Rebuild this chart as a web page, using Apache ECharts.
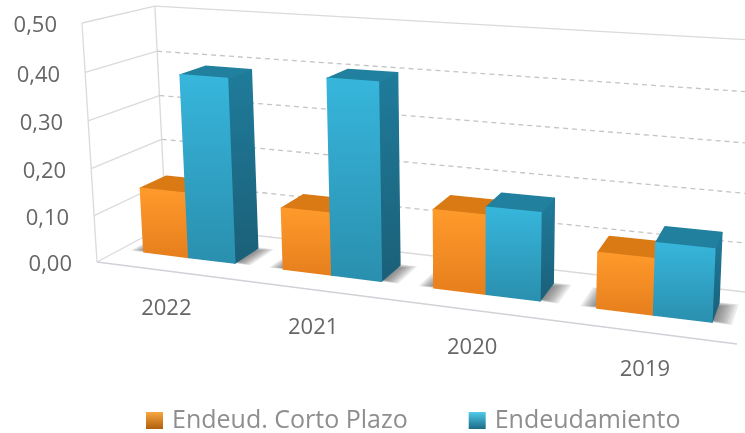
<!DOCTYPE html>
<html>
<head>
<meta charset="utf-8">
<style>html,body{margin:0;padding:0;background:#fff}#c{width:745px;height:433px}</style>
<script src="https://cdn.jsdelivr.net/npm/echarts@6/dist/echarts.min.js"></script>
</head>
<body>
<div id="c"></div>
<script>
const categories = ['2022', '2021', '2020', '2019'];
const shortTerm = [0.14, 0.13, 0.16, 0.11];
const totalDebt = [0.39, 0.405, 0.176, 0.141];
const valueTicks = [0, 0.1, 0.2, 0.3, 0.4, 0.5];
const tickLabels = ['0,00', '0,10', '0,20', '0,30', '0,40', '0,50'];
const seriesNames = ['Endeud. Corto Plazo', 'Endeudamiento'];

// Projective view of the unit box (u along categories, v up the value axis, d into the page)
const O = [97, 262], U = [737, 344], V = [82, 23], D = [166, 225];
const A = -0.15, B = -0.0385, C = 0.095;
function project(u, v, d) {
  const w = 1 + A * u + B * v + C * d;
  const f = i => O[i] + u * ((1 + A) * U[i] - O[i]) + v * ((1 + B) * V[i] - O[i]) + d * ((1 + C) * D[i] - O[i]);
  return [f(0) / w, f(1) / w];
}
const FRONT = 0.33, BACK = 0.71, BAR = 0.33; // depth span of the bars, bar width per category

function norm(api, params, cat, val) {
  const s = params.coordSys, c = api.coord([cat, val]);
  return [(c[0] - s.x) / s.width, (s.y + s.height - c[1]) / s.height];
}
function grad(a, b) {
  return {type: 'linear', x: 0, y: 0, x2: 0, y2: 1, colorStops: [{offset: 0, color: a}, {offset: 1, color: b}]};
}
function face(points, fill) {
  return {type: 'polygon', shape: {points}, style: {fill, stroke: fill, lineWidth: 1.5, lineJoin: 'round'}};
}
function barRenderer(side, col) {
  return function (params, api) {
    const s = params.coordSys;
    const p = norm(api, params, api.value(0), api.value(1));
    const w = api.size([1, 0])[0] / s.width * BAR;
    const u0 = side < 0 ? p[0] - w : p[0], u1 = u0 + w, v = p[1];
    return {type: 'group', children: [
      face([project(u1, 0, FRONT), project(u1, 0, BACK), project(u1, v, BACK), project(u1, v, FRONT)], grad(col.side0, col.side1)),
      face([project(u0, v, FRONT), project(u1, v, FRONT), project(u1, v, BACK), project(u0, v, BACK)], col.top),
      face([project(u0, v, FRONT), project(u1, v, FRONT), project(u1, 0, FRONT), project(u0, 0, FRONT)], grad(col.front0, col.front1))
    ]};
  };
}
const orange = {front0: '#ff9a2c', front1: '#e67f1c', top: '#d97a14', side0: '#b8650f', side1: '#a05508'};
const blue = {front0: '#37b6dc', front1: '#2a8fae', top: '#22809f', side0: '#1f7c9b', side1: '#1b5f78'};

function shadowRenderer(params, api) {
  const s = params.coordSys, p = norm(api, params, api.value(0), 0);
  const w = api.size([1, 0])[0] / s.width * BAR;
  const kids = [];
  for (let k = 8; k >= 0; k--) {
    const a = p[0] - w - 0.003 * k, b = p[0] + w + 0.0035 * k;
    const f = FRONT + 0.006 * (8 - k) - 0.005, g = BACK - 0.07 + 0.011 * k;
    kids.push({type: 'polygon', shape: {points: [project(a, 0, f), project(b, 0, f), project(b, 0, g), project(a, 0, g)]},
      style: {fill: 'rgba(60,60,60,0.1)'}});
  }
  return {type: 'group', children: kids};
}
function wallRenderer(params, api) {
  const i = api.value(0), tick = api.value(1);
  const v = norm(api, params, 0, tick)[1];
  const edge = i === 0 || i === valueTicks.length - 1;
  const solid = {stroke: '#dadada', lineWidth: 1.3};
  const dash = {stroke: '#c4c4c4', lineWidth: 1.3, lineDash: [5, 4]};
  const line = (a, b, st) => ({type: 'line', shape: {x1: a[0], y1: a[1], x2: b[0], y2: b[1]}, style: st});
  const kids = [
    line(project(0, v, 0), project(0, v, 1), solid),
    line(project(0, v, 1), project(1.03, v, 1), edge ? solid : dash)
  ];
  if (i === 0) {
    kids.push(line(project(0, 0, 0), project(1, 0, 0), {stroke: '#cfd2d6', lineWidth: 1.3}));
    kids.push(line(project(0, 0, 0), project(0, 1, 0), solid));
    kids.push(line(project(0, 0, 1), project(0, 1, 1), solid));
  }
  return {type: 'group', children: kids};
}
const FONT = '"Open Sans", sans-serif';
function yLabelRenderer(params, api) {
  const v = norm(api, params, 0, api.value(1))[1];
  const p = project(0, v, 0);
  return {type: 'text', style: {text: tickLabels[api.value(0)], x: p[0] - 25, y: p[1] + 3, align: 'right', verticalAlign: 'middle',
    fill: '#666666', fontSize: 22, fontFamily: FONT}};
}
function xLabelRenderer(params, api) {
  const c = norm(api, params, api.value(0), 0);
  const p = project(c[0], 0, 0);
  return {type: 'text', style: {text: categories[api.value(0)], x: p[0], y: p[1] + 38, align: 'center', verticalAlign: 'middle',
    fill: '#666666', fontSize: 22, fontFamily: FONT}};
}
const idx = categories.map((_, i) => i);
const chart = echarts.init(document.getElementById('c'), null, {renderer: 'canvas'});
chart.setOption({
  animation: false,
  backgroundColor: '#ffffff',
  grid: {left: 0, right: 0, top: 0, bottom: 0},
  xAxis: {type: 'category', data: categories, show: false},
  yAxis: {type: 'value', min: 0, max: 0.5, interval: 0.1, show: false},
  legend: {
    left: 146, top: 408, padding: 0, itemWidth: 17, itemHeight: 17, itemGap: 61,
    textStyle: {fontSize: 25, color: '#8e8e8e', fontFamily: FONT, padding: [0, 0, 0, 4]},
    data: [
      {name: seriesNames[0], icon: 'rect', itemStyle: {color: grad('#f7a93f', '#b05e0e')}},
      {name: seriesNames[1], icon: 'rect', itemStyle: {color: grad('#4fcbe8', '#1d6b87')}}
    ]
  },
  series: [
    {type: 'custom', z: 1, silent: true, clip: false, renderItem: wallRenderer, data: valueTicks.map((t, i) => [i, t]), encode: {x: 0, y: 1}},
    {type: 'custom', z: 2, silent: true, clip: false, renderItem: shadowRenderer, data: idx.map(i => [i, 0]), encode: {x: 0, y: 1}},
    {type: 'custom', z: 3, name: seriesNames[0], clip: false, renderItem: barRenderer(-1, orange), itemStyle: {color: '#ff9a2c'}, data: idx.map(i => [i, shortTerm[i]]), encode: {x: 0, y: 1}},
    {type: 'custom', z: 4, name: seriesNames[1], clip: false, renderItem: barRenderer(1, blue), itemStyle: {color: '#37b6dc'}, data: idx.map(i => [i, totalDebt[i]]), encode: {x: 0, y: 1}},
    {type: 'custom', z: 5, silent: true, clip: false, renderItem: yLabelRenderer, data: valueTicks.map((t, i) => [i, t]), encode: {x: 0, y: 1}},
    {type: 'custom', z: 5, silent: true, clip: false, renderItem: xLabelRenderer, data: idx.map(i => [i, 0]), encode: {x: 0, y: 1}}
  ]
});
</script>
</body>
</html>
